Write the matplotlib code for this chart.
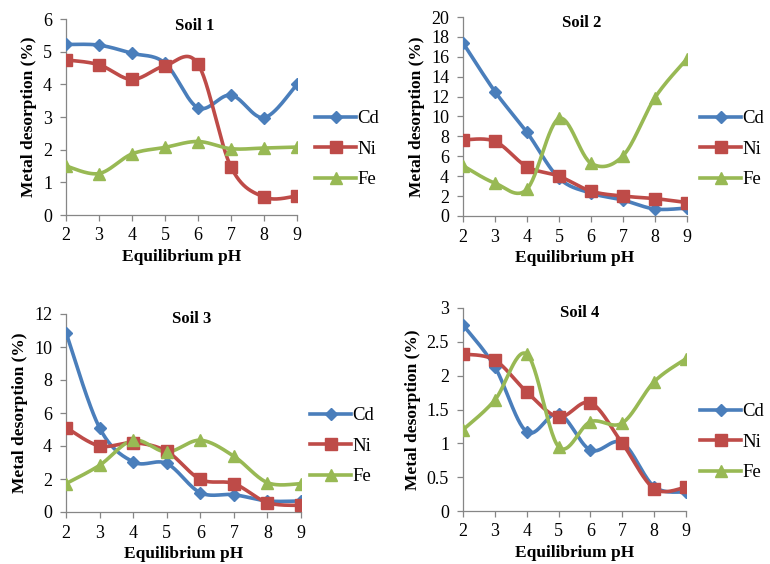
import numpy as np
import matplotlib
matplotlib.use("Agg")
import matplotlib.pyplot as plt
from matplotlib.lines import Line2D
from matplotlib.ticker import FuncFormatter

plt.rcParams['font.family'] = ['Liberation Serif', 'DejaVu Serif']

ph = [2, 3, 4, 5, 6, 7, 8, 9]
metals = ['Cd', 'Ni', 'Fe']

soil1_cd = [5.22, 5.20, 4.95, 4.65, 3.28, 3.67, 2.98, 4.00]
soil1_ni = [4.75, 4.60, 4.15, 4.57, 4.62, 1.47, 0.55, 0.58]
soil1_fe = [1.50, 1.27, 1.87, 2.07, 2.25, 2.03, 2.05, 2.08]

soil2_cd = [17.4, 12.5, 8.4, 3.8, 2.3, 1.6, 0.7, 0.8]
soil2_ni = [7.65, 7.5, 4.95, 4.0, 2.5, 2.0, 1.75, 1.35]
soil2_fe = [5.05, 3.3, 2.7, 9.8, 5.3, 6.05, 11.9, 15.8]

soil3_cd = [10.87, 5.10, 3.04, 2.94, 1.17, 1.05, 0.67, 0.67]
soil3_ni = [5.12, 4.00, 4.20, 3.68, 1.98, 1.72, 0.57, 0.40]
soil3_fe = [1.72, 2.83, 4.35, 3.64, 4.35, 3.38, 1.78, 1.72]

soil4_cd = [2.75, 2.13, 1.17, 1.44, 0.90, 1.01, 0.36, 0.28]
soil4_ni = [2.32, 2.23, 1.76, 1.39, 1.60, 1.00, 0.33, 0.35]
soil4_fe = [1.20, 1.64, 2.32, 0.95, 1.32, 1.30, 1.91, 2.25]

colors = {'Cd': '#4A7EBB', 'Ni': '#BE4B48', 'Fe': '#98B954'}
markers = {'Cd': ('D', 6), 'Ni': ('s', 8), 'Fe': ('^', 8.5)}

W, H = 770, 564


def smooth(x, y, n=30):
    # Catmull-Rom style bezier through the points (like Excel "smoothed line")
    x = np.asarray(x, float)
    y = np.asarray(y, float)
    px = np.concatenate([[x[0]], x, [x[-1]]])
    py = np.concatenate([[y[0]], y, [y[-1]]])
    xs, ys = [], []
    t = np.linspace(0, 1, n)
    for i in range(1, len(px) - 2):
        p0 = np.array([px[i], py[i]])
        p3 = np.array([px[i + 1], py[i + 1]])
        c1 = p0 + (p3 - np.array([px[i - 1], py[i - 1]])) / 6
        c2 = p3 - (np.array([px[i + 2], py[i + 2]]) - p0) / 6
        pts = ((1 - t) ** 3)[:, None] * p0 + (3 * (1 - t) ** 2 * t)[:, None] * c1 \
            + (3 * (1 - t) * t ** 2)[:, None] * c2 + (t ** 3)[:, None] * p3
        xs.extend(pts[:, 0])
        ys.extend(pts[:, 1])
    return xs, ys


def make_axes(fig, left, right, top, bottom):
    return fig.add_axes([left / W, 1 - bottom / H, (right - left) / W, (bottom - top) / H])


# title, series, axes box (px), y max, y step, title centre (px), legend x/top row (px)
panels = [
    ('Soil 1', [soil1_cd, soil1_ni, soil1_fe], (66, 297, 19, 215), 6, 1, (195, 26), (315, 116)),
    ('Soil 2', [soil2_cd, soil2_ni, soil2_fe], (463, 687, 17, 216), 20, 2, (582, 23), (700, 116)),
    ('Soil 3', [soil3_cd, soil3_ni, soil3_fe], (66, 301, 314, 512), 12, 2, (192, 319), (310, 413)),
    ('Soil 4', [soil4_cd, soil4_ni, soil4_fe], (463, 686, 308, 511), 3, 0.5, (580, 313), (700, 409)),
]

fig = plt.figure(figsize=(W / 100, H / 100), dpi=100)

for title, series, box, ymax, ystep, tpos, leg in panels:
    left, right, top, bottom = box
    ax = make_axes(fig, left, right, top, bottom)
    for name, vals in zip(metals, series):
        sx, sy = smooth(ph, vals)
        ax.plot(sx, sy, color=colors[name], lw=2.6, solid_capstyle='round', zorder=2)
        m, ms = markers[name]
        ax.plot(ph, vals, linestyle='none', marker=m, markersize=ms,
                color=colors[name], zorder=3)

    ax.set_xlim(2, 9)
    ax.set_ylim(0, ymax)
    ax.set_xticks(ph)
    ax.set_yticks(np.arange(0, ymax + ystep / 2, ystep))
    ax.yaxis.set_major_formatter(FuncFormatter(lambda v, p: '%g' % v))
    for s in ['top', 'right']:
        ax.spines[s].set_visible(False)
    for s in ['left', 'bottom']:
        ax.spines[s].set_color('#868686')
        ax.spines[s].set_linewidth(0.9)
    ax.tick_params(direction='out', length=4, width=0.9, color='#868686',
                   labelsize=13)
    ax.tick_params(axis='y', pad=6)
    ax.tick_params(axis='x', pad=5)
    ax.set_xlabel('Equilibrium pH', fontsize=12.5, fontweight='bold', labelpad=3)
    ax.set_ylabel('Metal desorption (%)', fontsize=12.5, fontweight='bold', labelpad=4)

    fig.text(tpos[0] / W, 1 - tpos[1] / H, title, fontsize=12, fontweight='bold',
             ha='center', va='center')

    handles = [Line2D([], [], color=colors[n], lw=2.6, marker=markers[n][0],
                      markersize=markers[n][1]) for n in metals]
    ax.legend(handles, metals, loc='upper left', frameon=False,
              bbox_to_anchor=(leg[0] / W, 1 - (leg[1] - 6) / H),
              bbox_transform=fig.transFigure, fontsize=13.5, handlelength=2.2,
              handletextpad=0.05, labelspacing=0.72, borderaxespad=0, borderpad=0)

fig.savefig('out.png', dpi=100)
